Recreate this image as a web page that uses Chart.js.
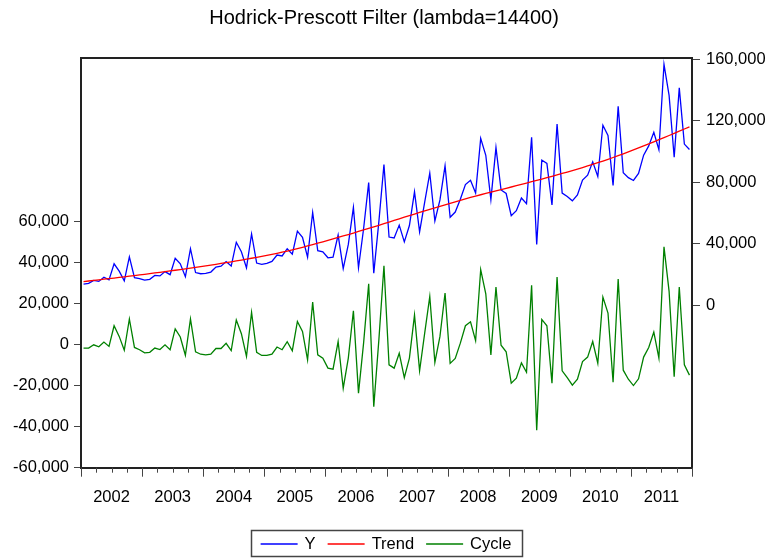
<!DOCTYPE html>
<html>
<head>
<meta charset="utf-8">
<script src="https://cdn.jsdelivr.net/npm/chart.js"></script>
<style>
  html, body { margin: 0; padding: 0; background: #fff; }
</style>
</head>
<body>
<canvas id="hp" width="768" height="558"></canvas>
<script>
// monthly observations 2002M01 .. 2011M12
const years = ['2002', '2003', '2004', '2005', '2006', '2007', '2008', '2009', '2010', '2011'];

const yValues = [
  13700, 14100, 16100, 15400, 18100, 16400, 26900, 22100, 15800, 31400, 17900, 17200,
  16200, 16800, 19300, 19000, 21800, 19800, 30500, 26900, 18500, 36700, 21200, 20400,
  20600, 21500, 24800, 25300, 28300, 25400, 40900, 34700, 24200, 46300, 27400, 26500,
  27100, 28400, 32600, 32000, 36700, 33100, 48200, 44200, 31200, 60300, 35400, 34700,
  30800, 31200, 45600, 23800, 39500, 63600, 24300, 49700, 79800, 20800, 54400, 91600,
  44300, 43700, 52100, 41200, 51800, 73800, 47700, 67100, 86000, 54800, 68500, 90700,
  57200, 60600, 69000, 78500, 81300, 73000, 108600, 97600, 68700, 102600, 75000, 72700,
  58200, 61500, 69800, 66100, 109400, 39500, 94500, 92300, 65200, 117900, 73000, 70700,
  67900, 71800, 81400, 84600, 93300, 83800, 117200, 110500, 77900, 129500, 86200, 83000,
  81200, 85800, 97700, 103700, 112600, 101200, 156900, 136600, 96300, 141500, 104900, 101400
];

const trendValues = [
  15300, 15680, 16060, 16440, 16830, 17220, 17610, 18010, 18410, 18810, 19220, 19630,
  20050, 20470, 20900, 21330, 21770, 22220, 22670, 23130, 23600, 24070, 24550, 25040,
  25540, 26050, 26570, 27100, 27640, 28190, 28750, 29320, 29900, 30490, 31090, 31700,
  32330, 32980, 33680, 34420, 35200, 36000, 36820, 37660, 38520, 39400, 40300, 41220,
  42150, 43090, 44040, 45000, 45970, 46950, 47940, 48940, 49950, 50970, 52000, 53040,
  54090, 55140, 56190, 57240, 58290, 59330, 60360, 61380, 62390, 63390, 64380, 65360,
  66330, 67290, 68240, 69180, 70100, 71000, 71880, 72740, 73580, 74400, 75240, 76080,
  76930, 77780, 78640, 79500, 80370, 81240, 82120, 83010, 83910, 84820, 85740, 86680,
  87640, 88620, 89620, 90640, 91690, 92770, 93870, 95000, 96160, 97350, 98570, 99820,
  101090, 102380, 103690, 105020, 106370, 107740, 109120, 110510, 111910, 113320, 114740, 116170
];

const cycleValues = [
  -1600, -1600, 0, -1000, 1300, -800, 9300, 4100, -2600, 12600, -1300, -2400,
  -3900, -3700, -1600, -2300, 0, -2400, 7800, 3800, -5100, 12600, -3400, -4600,
  -4900, -4600, -1800, -1800, 700, -2800, 12100, 5400, -5700, 15800, -3700, -5200,
  -5200, -4600, -1100, -2400, 1500, -2900, 11400, 6500, -7300, 20900, -4900, -6500,
  -11400, -11900, 1600, -21200, -6500, 16600, -23600, 800, 29800, -30200, 2400, 38600,
  -9800, -11400, -4100, -16000, -6500, 14500, -12700, 5700, 23600, -8600, 4100, 25300,
  -9100, -6700, 800, 9300, 11200, 2000, 36700, 24900, -4900, 28200, -200, -3400,
  -18700, -16300, -8800, -13400, 29000, -41700, 12400, 9300, -18700, 33100, -12700, -16000,
  -19700, -16800, -8200, -6000, 1600, -9000, 23300, 15500, -18300, 32100, -12400, -16800,
  -19900, -16600, -6000, -1300, 6200, -6500, 47800, 26100, -15600, 28200, -9800, -14800
];

const leftTicks = [-60000, -40000, -20000, 0, 20000, 40000, 60000];
const rightTicks = [0, 40000, 80000, 120000, 160000];

const FONT = '"Liberation Sans", Arial, Helvetica, sans-serif';
Chart.defaults.font.family = FONT;
Chart.defaults.color = '#000';

const toPoints = arr => arr.map((v, i) => ({ x: i + 0.5, y: v }));
const fmt = v => Number(v).toLocaleString('en-US');

// top border, quarter/year ticks on the time axis, boxed legend
const frame = {
  id: 'frame',
  afterDraw(chart) {
    const { ctx, chartArea: a, scales: { x } } = chart;
    ctx.save();
    ctx.strokeStyle = '#222';
    ctx.lineWidth = 2;
    ctx.beginPath();
    ctx.moveTo(a.left - 1, a.top);
    ctx.lineTo(a.right + 1, a.top);
    ctx.stroke();

    ctx.strokeStyle = '#444';
    ctx.lineWidth = 1;
    for (let m = 0; m <= 120; m += 3) {
      const px = Math.round(x.getPixelForValue(m)) + 0.5;
      ctx.beginPath();
      ctx.moveTo(px, a.bottom);
      ctx.lineTo(px, a.bottom + (m % 12 === 0 ? 9 : 5));
      ctx.stroke();
    }

    const fs = 16.5, sample = 37, gap = 7, sep = 12;
    ctx.font = fs + 'px ' + FONT;
    const items = chart.data.datasets.map(d => ({
      label: d.label, color: d.borderColor, w: ctx.measureText(d.label).width
    }));
    const total = items.reduce((s, it) => s + sample + gap + it.w, 0) + sep * (items.length - 1);
    const cy = 544;
    let lx = 386 - total / 2;
    ctx.strokeStyle = '#444';
    ctx.lineWidth = 1.5;
    ctx.strokeRect(Math.round(lx - 10) + 0.5, 530.5, Math.round(total + 20), 26);
    ctx.textBaseline = 'middle';
    ctx.fillStyle = '#000';
    items.forEach(it => {
      ctx.strokeStyle = it.color;
      ctx.lineWidth = 1.3;
      ctx.beginPath();
      ctx.moveTo(lx, cy);
      ctx.lineTo(lx + sample, cy);
      ctx.stroke();
      ctx.fillText(it.label, lx + sample + gap, cy + 0.5);
      lx += sample + gap + it.w + sep;
    });
    ctx.restore();
  }
};

new Chart(document.getElementById('hp'), {
  type: 'line',
  data: {
    datasets: [
      { label: 'Y', data: toPoints(yValues), yAxisID: 'y1', borderColor: '#0000ff', order: 1 },
      { label: 'Trend', data: toPoints(trendValues), yAxisID: 'y1', borderColor: '#ff0000', order: 0 },
      { label: 'Cycle', data: toPoints(cycleValues), yAxisID: 'y', borderColor: '#008000', order: 2 }
    ]
  },
  options: {
    responsive: false,
    animation: false,
    layout: { padding: 0 },
    elements: {
      point: { radius: 0 },
      line: { borderWidth: 1.3, tension: 0, fill: false }
    },
    plugins: {
      legend: { display: false },
      tooltip: { enabled: false },
      title: {
        display: true,
        text: 'Hodrick-Prescott Filter (lambda=14400)',
        font: { size: 20, weight: 'normal' },
        color: '#000',
        padding: { top: 6, bottom: 28 }
      }
    },
    scales: {
      x: {
        type: 'linear',
        min: 0,
        max: 120,
        afterBuildTicks: s => { s.ticks = years.map((y, k) => ({ value: 6 + 12 * k })); },
        afterFit: s => { s.height = 90.3; },
        ticks: {
          autoSkip: false,
          maxRotation: 0,
          padding: 12,
          font: { size: 16.5 },
          callback: (v, i) => years[i]
        },
        grid: { display: false },
        border: { display: true, color: '#222', width: 2 }
      },
      y: {
        position: 'left',
        min: -60000,
        max: 140000,
        afterBuildTicks: s => { s.ticks = leftTicks.map(v => ({ value: v })); },
        afterFit: s => { s.width = 81; },
        ticks: { padding: 5, font: { size: 16.5 }, callback: fmt },
        grid: { drawOnChartArea: false, tickLength: 7, color: '#444' },
        border: { color: '#222', width: 2 }
      },
      y1: {
        position: 'right',
        min: -106000,
        max: 161000,
        afterBuildTicks: s => { s.ticks = rightTicks.map(v => ({ value: v })); },
        afterFit: s => { s.width = 76; },
        ticks: { padding: 6, font: { size: 16.5 }, callback: fmt },
        grid: { drawOnChartArea: false, tickLength: 8, color: '#444' },
        border: { color: '#222', width: 2 }
      }
    }
  },
  plugins: [frame]
});
</script>
</body>
</html>
